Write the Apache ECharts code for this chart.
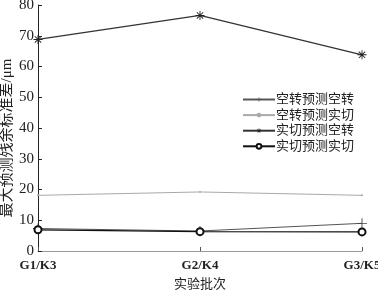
<!DOCTYPE html>
<html><head><meta charset="utf-8">
<script src="https://cdn.jsdelivr.net/npm/echarts@6/dist/echarts.min.js"></script>
<style>html,body{margin:0;padding:0;background:#fff}#c{width:378px;height:290px}</style>
</head><body><div id="c"></div>
<script>
const categories = ['G1/K3', 'G2/K4', 'G3/K5'];
const seriesNames = ['空转预测空转', '空转预测实切', '实切预测空转', '实切预测实切'];
const s1 = [7.3, 6.5, 9.0];
const s2 = [18.1, 19.2, 18.1];
const s3 = [68.8, 76.6, 63.8];
const s4 = [6.9, 6.3, 6.2];
const yTicks = [0, 10, 20, 30, 40, 50, 60, 70, 80];

const plus = 'path://M-0.45,-5H0.45V-0.45H5V0.45H0.45V5H-0.45V0.45H-5V-0.45H-0.45Z';
const star = 'path://M-0.5,-5H0.5V5H-0.5Z M-5,-0.5H5V0.5H-5Z M-3.9,-3.2L-3.2,-3.9L3.9,3.2L3.2,3.9Z M3.2,-3.9L3.9,-3.2L-3.2,3.9L-3.9,3.2Z';
const font = '"Liberation Serif", "Noto Sans CJK SC", serif';

const chart = echarts.init(document.getElementById('c'), null, {renderer: 'canvas'});
chart.setOption({
  animation: false,
  backgroundColor: '#fff',
  textStyle: {fontFamily: font},
  grid: {left: 38, right: 16, top: 5, bottom: 39, containLabel: false, outerBoundsMode: 'none'},
  legend: {
    orient: 'vertical', left: 237, top: 88,
    itemWidth: 32, itemHeight: 6, itemGap: 2.6,
    textStyle: {fontSize: 13, color: '#222', fontFamily: font, padding: [0,0,0,-4]},
    data: seriesNames
  },
  xAxis: {
    type: 'category', data: categories, boundaryGap: false,
    name: '实验批次', nameLocation: 'middle', nameGap: 27, nameMoveOverlap: false,
    nameTextStyle: {fontSize: 13, color: '#222', fontFamily: font},
    axisLine: {lineStyle: {color: '#999', width: 1}},
    axisTick: {inside: true, length: 4, lineStyle: {color: '#555'}},
    axisLabel: {fontSize: 13, fontWeight: 'bold', color: '#222', margin: 8,
      formatter: v => v},
  },
  yAxis: {
    type: 'value', min: 0, max: 80, interval: 10,
    name: '最大预测残余标准差/μm', nameLocation: 'middle', nameGap: 23, nameMoveOverlap: false,
    nameTextStyle: {fontSize: 15, color: '#222', fontFamily: font, padding: [0, 20, 0, 0]},
    axisLine: {show: true, lineStyle: {color: '#222', width: 1}},
    axisTick: {show: true, inside: true, length: 4, lineStyle: {color: '#222'}},
    axisLabel: {fontSize: 15, color: '#222', margin: 4,
      formatter: v => yTicks.includes(v) ? String(v) : ''},
    splitLine: {show: false}
  },
  series: [
    {name: seriesNames[0], type: 'line', data: s1, symbol: plus, symbolSize: 10,
      lineStyle: {color: '#555', width: 1}, itemStyle: {color: '#444'}},
    {name: seriesNames[1], type: 'line', data: s2, symbol: 'circle', symbolSize: 2,
      lineStyle: {color: '#aaa', width: 1}, itemStyle: {color: '#aaa'}},
    {name: seriesNames[2], type: 'line', data: s3, symbol: star, symbolSize: 9,
      lineStyle: {color: '#333', width: 1.2}, itemStyle: {color: '#222'}},
    {name: seriesNames[3], type: 'line', data: s4, symbol: 'emptyCircle', symbolSize: 7,
      lineStyle: {color: '#111', width: 1.2}, itemStyle: {color: '#111', borderWidth: 1.2}}
  ]
});
</script></body></html>
